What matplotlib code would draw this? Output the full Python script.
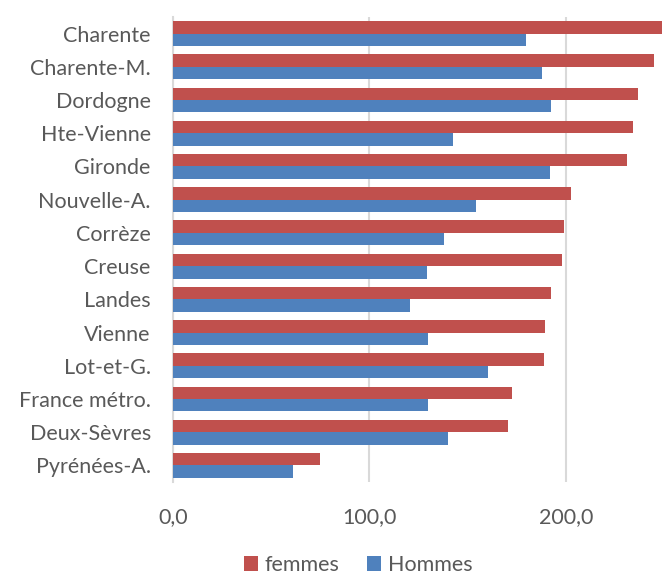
import numpy as np
import matplotlib.pyplot as plt

plt.rcParams['font.family'] = ['Lato', 'DejaVu Sans']

categories = ['Charente', 'Charente-M.', 'Dordogne', 'Hte-Vienne', 'Gironde',
              'Nouvelle-A.', 'Corrèze', 'Creuse', 'Landes', 'Vienne',
              'Lot-et-G.', 'France métro.', 'Deux-Sèvres', 'Pyrénées-A.']
femmes = [249.5, 245.1, 236.6, 234.4, 231.2, 202.7, 199.0, 198.0,
          192.3, 189.3, 188.8, 172.4, 170.4, 74.9]
hommes = [179.7, 188.1, 192.4, 142.4, 191.9, 154.1, 137.8, 129.1,
          120.9, 130.1, 160.2, 129.6, 139.8, 61.0]
xticks = [0, 100, 200]
xticklabels = ['0,0', '100,0', '200,0']

red = '#C0504D'
blue = '#4F81BD'
text_col = '#595959'

fig = plt.figure(figsize=(6.63, 5.75), dpi=100)
ax = fig.add_axes([173 / 663, 1 - 482 / 575, (662 - 173) / 663, (482 - 17) / 575])

y = np.arange(len(categories))
h = 0.375
ax.barh(y - h / 2, femmes, height=h, color=red, label='femmes', zorder=3)
ax.barh(y + h / 2, hommes, height=h, color=blue, label='Hommes', zorder=3)

ax.set_ylim(len(categories) - 0.5, -0.5)
ax.set_xlim(0, 249)
ax.set_yticks(y)
ax.set_yticklabels(categories, fontsize=15.5, color=text_col)
ax.set_xticks(xticks)
ax.set_xticklabels(xticklabels, fontsize=15.5, color=text_col)
ax.tick_params(length=0)
ax.tick_params(axis='y', pad=16)
ax.tick_params(axis='x', pad=18)

ax.grid(axis='x', color='#D9D9D9', linewidth=1.5, zorder=0)
for s in ['top', 'right', 'bottom']:
    ax.spines[s].set_visible(False)
ax.spines['left'].set_color('#D9D9D9')
ax.spines['left'].set_linewidth(1.5)

fig.legend(loc='center', bbox_to_anchor=(0.54, 1 - 565 / 575), ncol=2,
           frameon=False, fontsize=15.5, handlelength=0.65, handleheight=0.65,
           handletextpad=0.3, columnspacing=1.3, labelcolor=text_col)

fig.savefig('out.png', dpi=100)
